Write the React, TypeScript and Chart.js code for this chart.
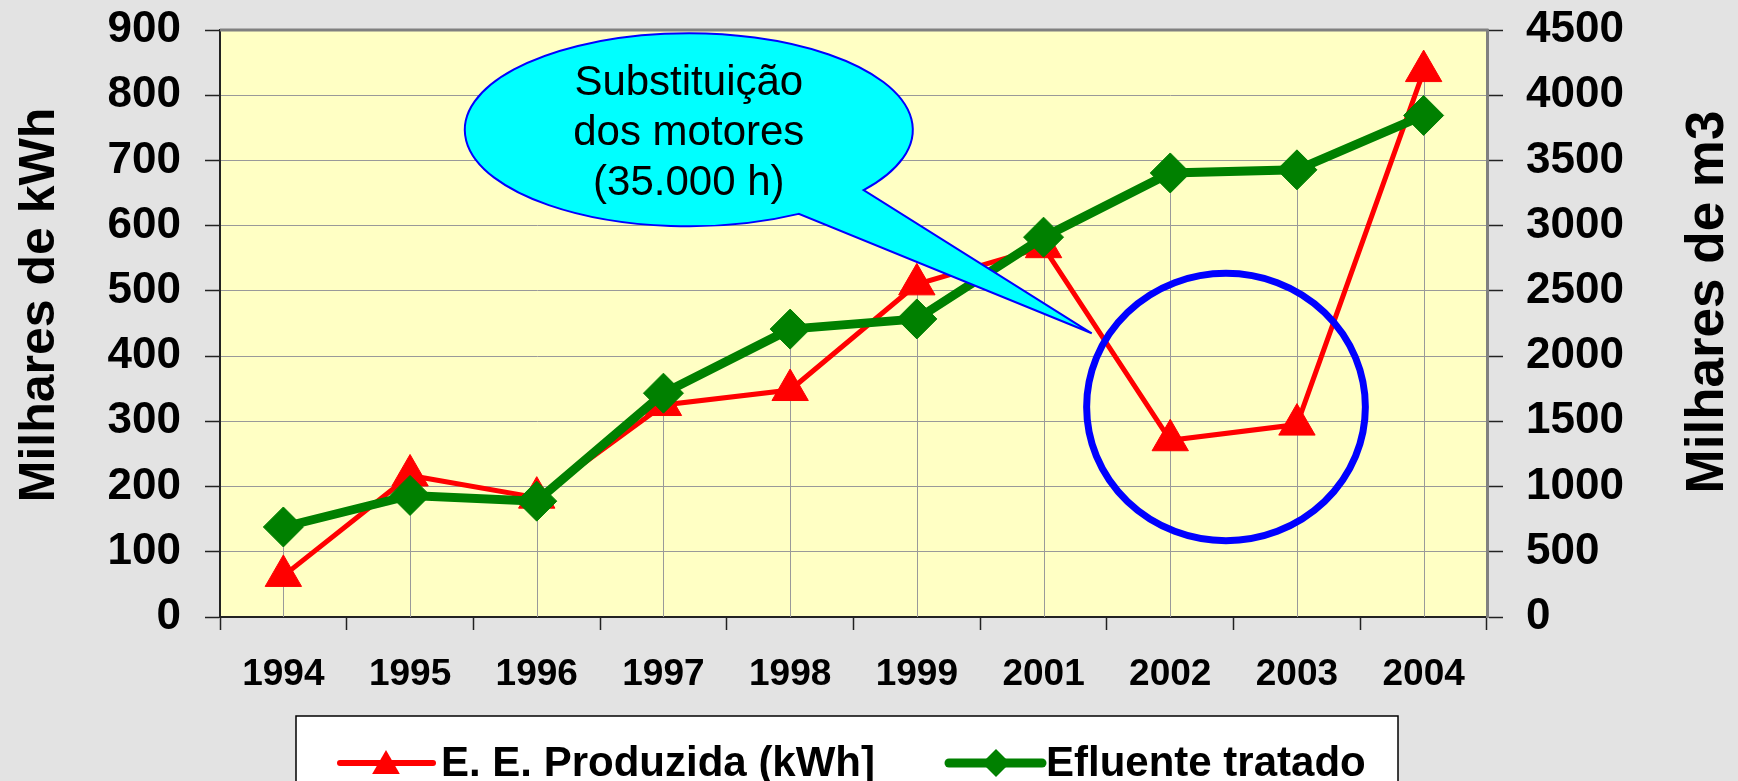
import React, { useEffect, useRef } from 'react';
import { Chart, registerables } from 'chart.js';

Chart.register(...registerables);

// ---------------- data ----------------
const years = ['1994', '1995', '1996', '1997', '1998', '1999', '2001', '2002', '2003', '2004'];
const energiaProduzida = [63, 217, 183, 325, 348, 510, 567, 271, 295, 837]; // milhares de kWh (left axis)
const efluenteTratado = [690, 932, 888, 1716, 2207, 2285, 2912, 3404, 3428, 3845]; // milhares de m3 (right axis)
const seriesLabels = ['E. E. Produzida (kWh]', 'Efluente tratado'];
const axisTitles = ['Milhares de kWh', 'Milhares de m3'];
const leftAxisRange = [0, 900, 100];
const rightAxisRange = [0, 4500, 500];
const calloutLines = ['Substituição', 'dos motores', '(35.000 h)'];

// annotation geometry in axis units (category index / left-axis value)
const CALLOUT = { cx: 3.2, cy: 747, rx: 1.768, ry: 148, tipX: 6.38, tipY: 435, a1: 38.7, a2: 60.6 };
const HIGHLIGHT = { cx: 7.44, cy: 322, rx: 1.1, ry: 205 };

const FONT = "'Liberation Sans', Arial, Helvetica, sans-serif";
const RED = '#FF0000';
const GREEN = '#008000';

const backgroundPlugin = {
  id: 'bgPlugin',
  beforeDraw(chart: any) {
    const { ctx, chartArea } = chart;
    ctx.save();
    ctx.fillStyle = '#E3E3E3';
    ctx.fillRect(0, 0, chart.width, chart.height);
    ctx.fillStyle = '#FFFFC4';
    ctx.fillRect(chartArea.left, chartArea.top, chartArea.right - chartArea.left, chartArea.bottom - chartArea.top);
    ctx.restore();
  },
};

const dropLinesPlugin = {
  id: 'dropLines',
  beforeDatasetsDraw(chart: any) {
    const { ctx, chartArea } = chart;
    const metas = chart.getSortedVisibleDatasetMetas();
    ctx.save();
    ctx.strokeStyle = '#999999';
    ctx.lineWidth = 1;
    for (let i = 0; i < years.length; i++) {
      let minY = Infinity;
      let px = 0;
      metas.forEach((m: any) => {
        const el = m.data[i];
        if (el && el.y < minY) {
          minY = el.y;
          px = el.x;
        }
      });
      ctx.beginPath();
      ctx.moveTo(Math.round(px) + 0.5, minY);
      ctx.lineTo(Math.round(px) + 0.5, chartArea.bottom);
      ctx.stroke();
    }
    ctx.restore();
  },
};

const annotationPlugin = {
  id: 'annotations',
  afterDatasetsDraw(chart: any) {
    const { ctx, chartArea } = chart;
    const xs = chart.scales.x;
    const ys = chart.scales.y;
    ctx.save();
    // top border of plot area
    ctx.strokeStyle = '#808080';
    ctx.lineWidth = 3;
    ctx.beginPath();
    ctx.moveTo(chartArea.left, chartArea.top);
    ctx.lineTo(chartArea.right + 1.5, chartArea.top);
    ctx.stroke();

    // highlight circle
    {
      const cx = xs.getPixelForValue(HIGHLIGHT.cx);
      const cy = ys.getPixelForValue(HIGHLIGHT.cy);
      const rx = xs.getPixelForValue(HIGHLIGHT.cx + HIGHLIGHT.rx) - cx;
      const ry = cy - ys.getPixelForValue(HIGHLIGHT.cy + HIGHLIGHT.ry);
      ctx.strokeStyle = '#0000FF';
      ctx.lineWidth = 7;
      ctx.beginPath();
      ctx.ellipse(cx, cy, rx, ry, 0, 0, Math.PI * 2);
      ctx.stroke();
    }

    // callout
    {
      const cx = xs.getPixelForValue(CALLOUT.cx);
      const cy = ys.getPixelForValue(CALLOUT.cy);
      const rx = xs.getPixelForValue(CALLOUT.cx + CALLOUT.rx) - cx;
      const ry = cy - ys.getPixelForValue(CALLOUT.cy + CALLOUT.ry);
      const tx = xs.getPixelForValue(CALLOUT.tipX);
      const ty = ys.getPixelForValue(CALLOUT.tipY);
      const a1 = (CALLOUT.a1 * Math.PI) / 180;
      const a2 = (CALLOUT.a2 * Math.PI) / 180;
      ctx.beginPath();
      ctx.ellipse(cx, cy, rx, ry, 0, a1, a2, true);
      ctx.lineTo(tx, ty);
      ctx.closePath();
      ctx.fillStyle = '#00FFFF';
      ctx.fill();
      ctx.strokeStyle = '#0000FF';
      ctx.lineWidth = 2;
      ctx.stroke();

      ctx.fillStyle = '#000000';
      ctx.font = `42px ${FONT}`;
      ctx.textAlign = 'center';
      ctx.textBaseline = 'alphabetic';
      calloutLines.forEach((line, i) => {
        ctx.fillText(line, cx, cy + 15 + (i - 1) * 50);
      });
    }
    ctx.restore();
  },
};

function drawTriangle(ctx: any, x: number, y: number, r: number) {
  ctx.beginPath();
  for (let k = 0; k < 3; k++) {
    const a = (k * 2 * Math.PI) / 3;
    const px = x + Math.sin(a) * r;
    const py = y - Math.cos(a) * r;
    if (k === 0) ctx.moveTo(px, py);
    else ctx.lineTo(px, py);
  }
  ctx.closePath();
  ctx.fill();
}

function drawDiamond(ctx: any, x: number, y: number, r: number) {
  ctx.beginPath();
  ctx.moveTo(x, y - r);
  ctx.lineTo(x + r, y);
  ctx.lineTo(x, y + r);
  ctx.lineTo(x - r, y);
  ctx.closePath();
  ctx.fill();
}

const titlesLegendPlugin = {
  id: 'titlesLegend',
  afterDraw(chart: any) {
    const { ctx } = chart;
    ctx.save();
    // axis titles (both read bottom-to-top)
    ctx.fillStyle = '#000000';
    ctx.textAlign = 'center';
    ctx.textBaseline = 'alphabetic';
    const titleCfg = [
      { x: 53.5, y: 305, size: 50 },
      { x: 1723, y: 302, size: 53 },
    ];
    axisTitles.forEach((t, i) => {
      ctx.save();
      ctx.font = `bold ${titleCfg[i].size}px ${FONT}`;
      ctx.translate(titleCfg[i].x, titleCfg[i].y);
      ctx.rotate(-Math.PI / 2);
      ctx.fillText(t, 0, 0);
      ctx.restore();
    });

    // legend box
    const bx = 296, by = 716, bw = 1102, bh = 90;
    ctx.fillStyle = '#FFFFFF';
    ctx.fillRect(bx, by, bw, bh);
    ctx.strokeStyle = '#000000';
    ctx.lineWidth = 1.5;
    ctx.strokeRect(bx, by, bw, bh);

    const items = [
      { x0: 340, x1: 433, mx: 386, tx: 441 },
      { x0: 949, x1: 1042, mx: 996, tx: 1046 },
    ];
    const ly = 763;
    chart.data.datasets.forEach((ds: any, i: number) => {
      const it = items[i];
      ctx.strokeStyle = ds.borderColor;
      ctx.lineWidth = i === 0 ? 6 : 9;
      ctx.lineCap = 'round';
      ctx.beginPath();
      ctx.moveTo(it.x0, ly);
      ctx.lineTo(it.x1, ly);
      ctx.stroke();
      ctx.fillStyle = ds.borderColor;
      if (ds.pointStyle === 'triangle') drawTriangle(ctx, it.mx, ly + 3, 16);
      else drawDiamond(ctx, it.mx, ly, 14);
      ctx.fillStyle = '#000000';
      ctx.font = `bold 42px ${FONT}`;
      ctx.textAlign = 'left';
      ctx.textBaseline = 'alphabetic';
      ctx.fillText(ds.label, it.tx, 776);
    });
    ctx.restore();
  },
};

export default function App() {
  const canvasRef = useRef<HTMLCanvasElement | null>(null);

  useEffect(() => {
    document.body.style.margin = '0';
    document.body.style.background = '#E3E3E3';
    const canvas = canvasRef.current;
    if (!canvas) return;
    const chart = new Chart(canvas, {
      type: 'line',
      data: {
        labels: years,
        datasets: [
          {
            label: seriesLabels[0],
            data: energiaProduzida,
            yAxisID: 'y',
            borderColor: RED,
            backgroundColor: RED,
            borderWidth: 5,
            pointStyle: 'triangle',
            pointRadius: 21,
            pointBorderWidth: 1,
            pointBackgroundColor: RED,
            pointBorderColor: RED,
            tension: 0,
            order: 1,
          },
          {
            label: seriesLabels[1],
            data: efluenteTratado,
            yAxisID: 'y1',
            borderColor: GREEN,
            backgroundColor: GREEN,
            borderWidth: 9,
            pointStyle: 'rectRot',
            pointRadius: 20,
            pointBorderWidth: 1,
            pointBackgroundColor: GREEN,
            pointBorderColor: GREEN,
            tension: 0,
            order: 0,
          },
        ],
      },
      options: {
        responsive: false,
        animation: false,
        events: [],
        devicePixelRatio: 1,
        layout: { padding: { top: 30, left: 0, right: 0, bottom: 0 } },
        plugins: {
          legend: { display: false },
          tooltip: { enabled: false },
          title: { display: false },
        },
        scales: {
          x: {
            type: 'category',
            offset: true,
            grid: {
              offset: true,
              drawOnChartArea: false,
              drawTicks: true,
              tickLength: 13,
              tickColor: '#222222',
              tickWidth: 1.5,
            },
            border: { color: '#222222', width: 2 },
            ticks: {
              color: '#000000',
              font: { family: FONT, size: 37, weight: 'bold' },
              padding: 23,
              maxRotation: 0,
              autoSkip: false,
            },
            afterFit: (s: any) => {
              s.height = 164;
              s.paddingLeft = 0;
              s.paddingRight = 0;
            },
          },
          y: {
            position: 'left',
            min: leftAxisRange[0],
            max: leftAxisRange[1],
            ticks: {
              stepSize: leftAxisRange[2],
              color: '#000000',
              font: { family: FONT, size: 44, weight: 'bold' },
              padding: 24,
              callback: (v: any) => String(v),
            },
            grid: {
              color: '#999999',
              lineWidth: 1,
              tickLength: 15,
              tickColor: '#222222',
              tickWidth: 1.5,
            },
            border: { color: '#222222', width: 2 },
            afterFit: (s: any) => {
              s.width = 220;
              s.paddingTop = 0;
              s.paddingBottom = 0;
            },
          },
          y1: {
            position: 'right',
            min: rightAxisRange[0],
            max: rightAxisRange[1],
            ticks: {
              stepSize: rightAxisRange[2],
              color: '#000000',
              font: { family: FONT, size: 44, weight: 'bold' },
              padding: 23,
              callback: (v: any) => String(v),
            },
            grid: {
              drawOnChartArea: false,
              tickLength: 16,
              tickColor: '#222222',
              tickWidth: 1.5,
            },
            border: { color: '#808080', width: 3 },
            afterFit: (s: any) => {
              s.width = 251;
              s.paddingTop = 0;
              s.paddingBottom = 0;
            },
          },
        },
      },
      plugins: [backgroundPlugin, dropLinesPlugin, annotationPlugin, titlesLegendPlugin],
    } as any);
    return () => chart.destroy();
  }, []);

  return (
    <canvas
      ref={canvasRef}
      width={1738}
      height={781}
      style={{ display: 'block', width: '1738px', height: '781px' }}
    />
  );
}
